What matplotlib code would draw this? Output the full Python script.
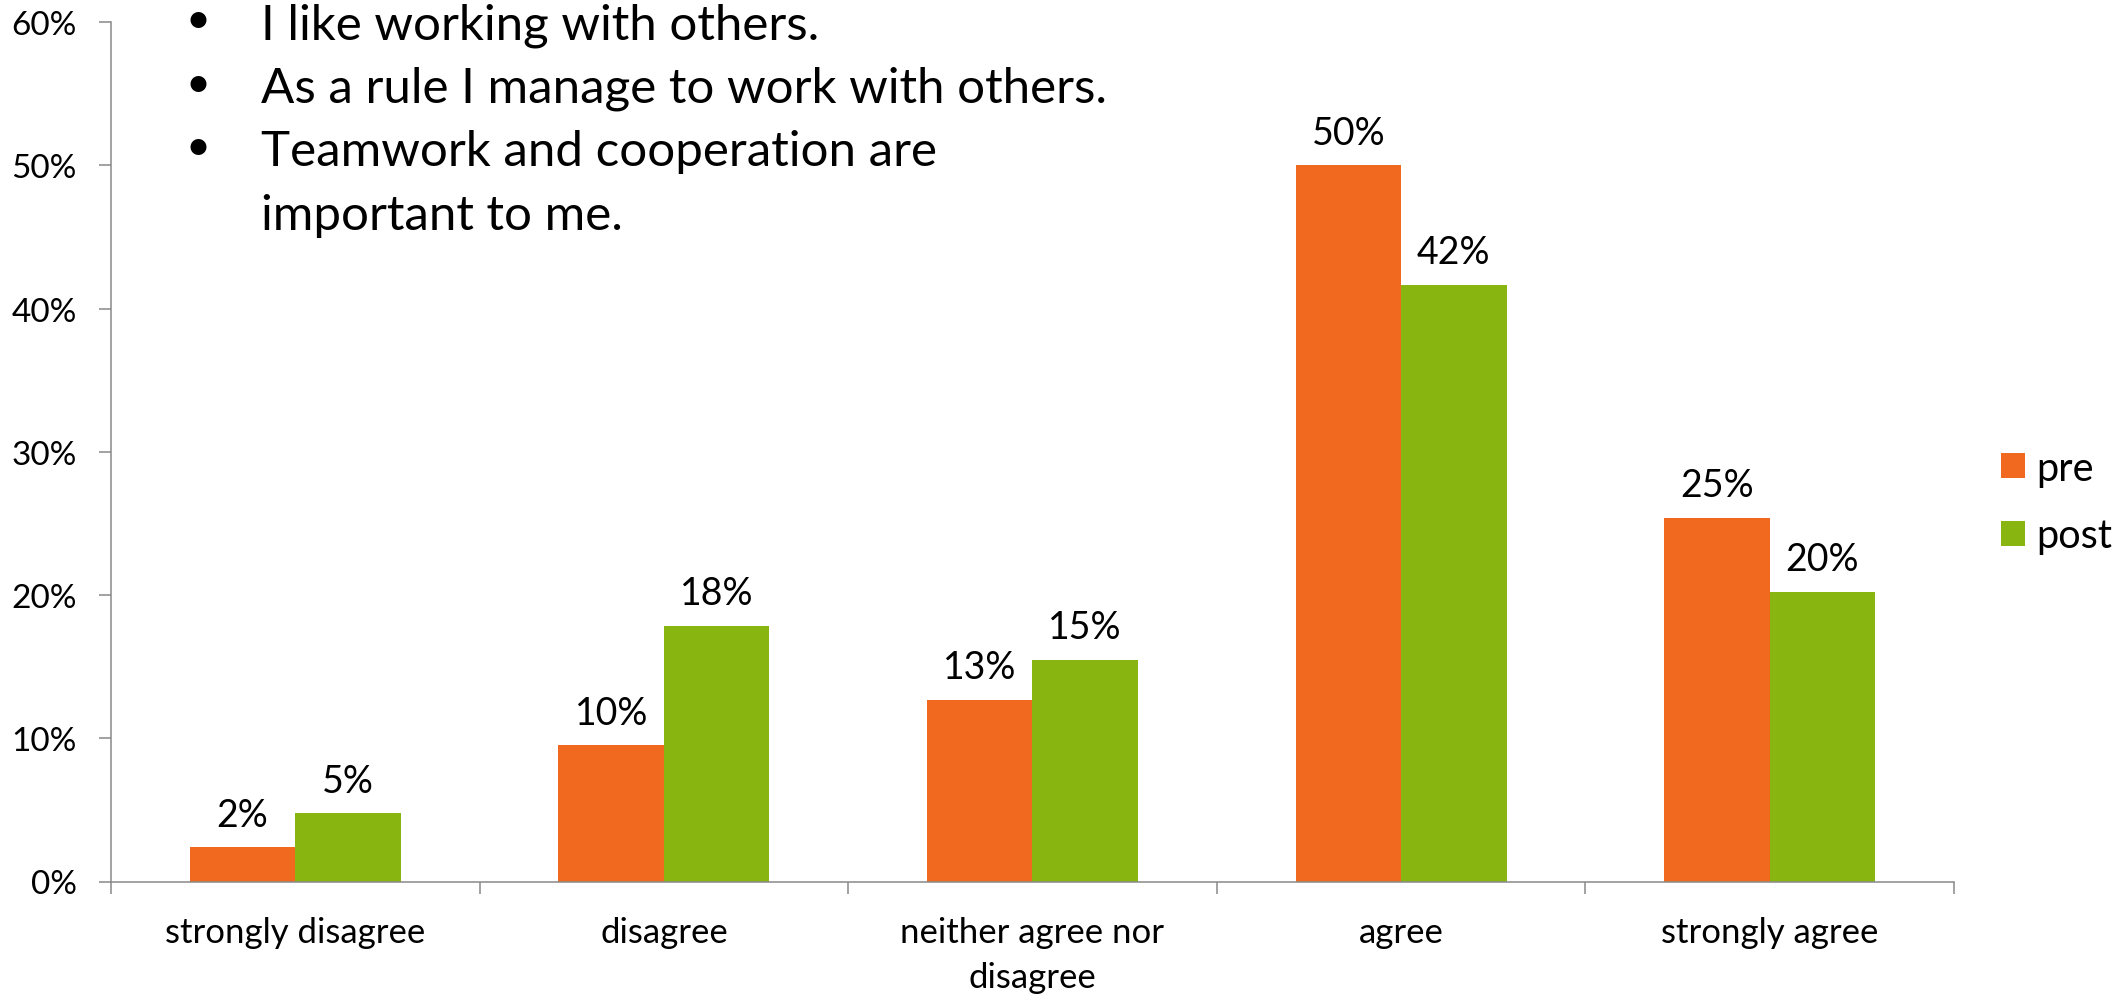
import matplotlib
matplotlib.use("Agg")
import matplotlib.pyplot as plt
import numpy as np
from matplotlib.patches import Patch

# Survey responses (share of respondents, %)
categories = ["strongly disagree", "disagree", "neither agree nor\ndisagree",
              "agree", "strongly agree"]
pre = [2.38, 9.52, 12.70, 50.00, 25.40]
post = [4.76, 17.86, 15.48, 41.67, 20.24]
series_names = ["pre", "post"]
y_ticks = [0, 10, 20, 30, 40, 50, 60]
statements = [
    "I like working with others.",
    "As a rule I manage to work with others.",
    "Teamwork and cooperation are\nimportant to me.",
]

plt.rcParams["font.family"] = ["Lato", "DejaVu Sans"]

W, H = 2125, 995
ORANGE = "#F0691F"
GREEN = "#88B510"
GREY = "#898989"

fig = plt.figure(figsize=(W / 100, H / 100), dpi=100)
fig.patch.set_facecolor("white")

# axes box in pixel terms: x 111..1954, y 23..882.5 (from top)
ax_left, ax_right, ax_top, ax_bottom = 111, 1954, 23, 882.5
ax = fig.add_axes([ax_left / W, 1 - ax_bottom / H,
                   (ax_right - ax_left) / W, (ax_bottom - ax_top) / H])

x = np.arange(len(categories))
bw = 0.286
bars_pre = ax.bar(x - bw / 2, pre, bw, color=ORANGE, label=series_names[0], linewidth=0)
bars_post = ax.bar(x + bw / 2, post, bw, color=GREEN, label=series_names[1], linewidth=0)

for bars, vals in ((bars_pre, pre), (bars_post, post)):
    for rect, v in zip(bars, vals):
        ax.annotate(f"{v:.0f}%", (rect.get_x() + rect.get_width() / 2, v),
                    xytext=(0, 15.5), textcoords="offset points",
                    ha="center", va="baseline", fontsize=27, color="black")

ax.set_xlim(-0.5, len(categories) - 0.5)
ax.set_ylim(0, 60)
ax.set_yticks(y_ticks)
ax.set_yticklabels([f"{t}%" for t in y_ticks])
ax.set_xticks(x)
ax.set_xticklabels(categories)
ax.set_xticks(np.arange(-0.5, len(categories), 1.0), minor=True)

ax.tick_params(axis="x", which="major", length=0, pad=25, labelsize=25)
ax.tick_params(axis="x", which="minor", length=8.5, width=1.1, color=GREY, direction="out")
ax.tick_params(axis="y", which="major", length=8.5, width=1.1, color=GREY,
               direction="out", pad=16, labelsize=24)
for lbl in ax.get_xticklabels():
    lbl.set_linespacing(1.5)

for s in ("top", "right"):
    ax.spines[s].set_visible(False)
for s in ("left", "bottom"):
    ax.spines[s].set_color(GREY)
    ax.spines[s].set_linewidth(1.1)

# bullet list of statements in the upper-left corner
text_x, bullet_x = 261, 198
baseline = 39
line_step = 63.5
for stmt in statements:
    fig.text(bullet_x / W, 1 - (baseline - 18) / H, "\u2022", ha="center", va="center",
             fontsize=31, color="black")
    for line in stmt.split("\n"):
        fig.text(text_x / W, 1 - baseline / H, line, ha="left", va="baseline",
                 fontsize=35.5, color="black")
        baseline += line_step

handles = [Patch(facecolor=ORANGE), Patch(facecolor=GREEN)]
fig.legend(handles, series_names, loc="center left",
           bbox_to_anchor=(2001 / W, 1 - 503 / H), frameon=False,
           fontsize=28.5, handlelength=0.6, handleheight=0.6, handletextpad=0.28,
           labelspacing=0.78, borderpad=0, borderaxespad=0)

fig.savefig("out.png", dpi=100, facecolor="white")
